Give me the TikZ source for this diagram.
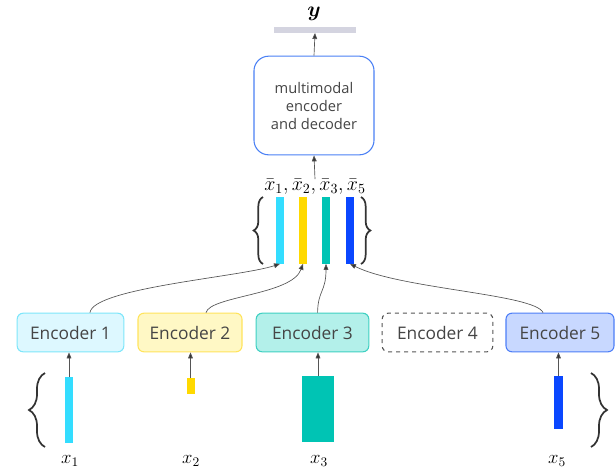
\RequirePackage{fix-cm}
\documentclass[tikz,border=0pt]{standalone}
\usepackage{bm}
\usepackage{fontspec}
\setmainfont{Open Sans}
\usetikzlibrary{arrows.meta,decorations.pathreplacing}
\definecolor{txt}{HTML}{454545}
\definecolor{lnc}{HTML}{555555}
\definecolor{tipc}{HTML}{333333}
\definecolor{cyanb}{HTML}{33DDFF}
\definecolor{yelb}{HTML}{FFD900}
\definecolor{tealb}{HTML}{00C4B4}
\definecolor{blueb}{HTML}{0A47FF}
\definecolor{eaf}{HTML}{DDF8FF}\definecolor{ead}{HTML}{7EE6FA}
\definecolor{ebf}{HTML}{FFF8C5}\definecolor{ebd}{HTML}{FFE45C}
\definecolor{ecf}{HTML}{B3F0EA}\definecolor{ecd}{HTML}{3FD0C2}
\definecolor{eef}{HTML}{C8D8FF}\definecolor{eed}{HTML}{4D7EF7}
\definecolor{boxd}{HTML}{4A80F5}
\definecolor{ybar}{HTML}{D4D4E0}
\tikzset{
  bar/.style={draw=none,inner sep=0pt,outer sep=0pt,rectangle},
  enc/.style={rectangle,rounded corners=4.5pt,line width=0.8pt,inner sep=0pt,
    minimum height=29pt,font=\fontsize{13}{15}\selectfont,text=txt},
  conn/.style={draw=lnc,line width=0.5pt,-{Triangle[length=4.5pt,width=3.6pt,fill=tipc]}},
  brc/.style={draw=tipc,line width=1.3pt,decorate},
  mlab/.style={inner sep=0pt,font=\fontsize{14}{16}\selectfont}
}
\begin{document}
\begin{tikzpicture}[x=0.75pt,y=-0.75pt]
\useasboundingbox (0,0) rectangle (615,472);
% output
\node[mlab,font=\fontsize{16}{18}\selectfont] (ylab) at (314,14) {$\bm{y}$};
\node[bar,fill=ybar,minimum width=61.5pt,minimum height=4.5pt] (ybar) at (315,30) {};
\node[rectangle,draw=boxd,line width=0.8pt,rounded corners=11pt,fill=white,
  minimum width=90pt,minimum height=74pt,align=center,text=txt,
  font=\fontsize{11}{13.5}\selectfont] (mm) at (314,105.5) {multimodal\\encoder\\and decoder};
\node[mlab,font=\fontsize{15}{17}\selectfont] (xbl) at (315,187) {$\bar{x}_1,\bar{x}_2,\bar{x}_3,\bar{x}_5$};
\draw[conn] (mm.north) -- (ybar.south);
\draw[conn] (xbl.north) -- (mm.south);
% fused bars
\node[bar,fill=cyanb,minimum width=6pt,minimum height=50pt] (b1) at (280,230.5) {};
\node[bar,fill=yelb,minimum width=6pt,minimum height=50pt] (b2) at (303,230.5) {};
\node[bar,fill=tealb,minimum width=6pt,minimum height=50pt] (b3) at (326,230.5) {};
\node[bar,fill=blueb,minimum width=6pt,minimum height=50pt] (b5) at (350,230.5) {};
\coordinate (tl1) at (263,264); \coordinate (tl2) at (263,197);
\coordinate (tr1) at (361,197); \coordinate (tr2) at (361,264);
\draw[brc,decoration={brace,amplitude=7pt}] (tl1) -- (tl2);
\draw[brc,decoration={brace,amplitude=7pt}] (tr1) -- (tr2);
% encoders
\node[enc,fill=eaf,draw=ead,minimum width=80pt] (e1) at (70.5,332.5) {Encoder 1};
\node[enc,fill=ebf,draw=ebd,minimum width=78pt] (e2) at (190,332.5) {Encoder 2};
\node[enc,fill=ecf,draw=ecd,minimum width=84.5pt] (e3) at (312.5,332.5) {Encoder 3};
\node[enc,fill=white,draw=lnc,dashed,minimum width=83pt] (e4) at (437.5,332.5) {Encoder 4};
\node[enc,fill=eef,draw=eed,minimum width=81pt] (e5) at (560,332.5) {Encoder 5};
% connectors encoders -> bars
\draw[conn] ([xshift=14.6pt]e1.north) .. controls (93,288) and (240,277) .. (b1.south);
\draw[conn] ([xshift=12pt]e2.north) .. controls (210,296) and (292,295) .. (b2.south);
\draw[conn] ([xshift=3.8pt]e3.north) .. controls (318,290) and (326,292) .. (b3.south);
\draw[conn] ([xshift=-12.7pt]e5.north) .. controls (535,294) and (400,289) .. (b5.south);
% inputs
\node[bar,fill=cyanb,minimum width=6pt,minimum height=49.5pt] (i1) at (69,410) {};
\node[bar,fill=yelb,minimum width=6pt,minimum height=12pt] (i2) at (190.5,386) {};
\node[bar,fill=tealb,minimum width=24pt,minimum height=49.5pt] (i3) at (318,409) {};
\node[bar,fill=blueb,minimum width=6.5pt,minimum height=39.5pt] (i5) at (558.5,402.5) {};
\draw[conn] (i1.north) -- (e1.south -| i1.north);
\draw[conn] (i2.north) -- (e2.south -| i2.north);
\draw[conn] (i3.north) -- (e3.south -| i3.north);
\draw[conn] (i5.north) -- (e5.south -| i5.north);
\coordinate (bl1) at (45,447); \coordinate (bl2) at (45,373);
\coordinate (br1) at (591,373); \coordinate (br2) at (591,447);
\draw[brc,decoration={brace,amplitude=12pt}] (bl1) -- (bl2);
\draw[brc,decoration={brace,amplitude=12pt}] (br1) -- (br2);
\node[mlab] (l1) at (70,461) {$x_1$};
\node[mlab] (l2) at (191,461) {$x_2$};
\node[mlab] (l3) at (319,461) {$x_3$};
\node[mlab] (l5) at (557,461) {$x_5$};
\end{tikzpicture}
\end{document}
